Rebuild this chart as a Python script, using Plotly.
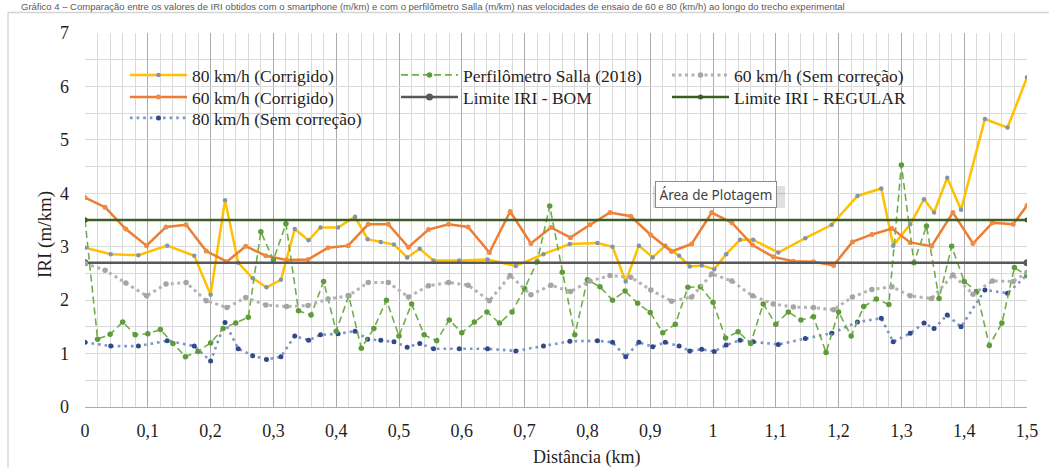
import plotly.graph_objects as go

# ---------------------------------------------------------------- data
# Passes at 80 km/h (distance in km, IRI in m/km)
dist_80 = [0, 0.041, 0.085, 0.131, 0.174, 0.2, 0.223, 0.244, 0.267, 0.289,
           0.312, 0.334, 0.356, 0.375, 0.403, 0.43, 0.45, 0.471, 0.492, 0.513,
           0.533, 0.555, 0.596, 0.641, 0.686, 0.73, 0.772, 0.816, 0.84, 0.861,
           0.882, 0.904, 0.924, 0.946, 0.963, 0.982, 1.002, 1.021, 1.043, 1.064,
           1.104, 1.147, 1.189, 1.23, 1.268, 1.287, 1.314, 1.336, 1.352, 1.373,
           1.395, 1.433, 1.469, 1.5]
iri_80_corrigido = [2.98, 2.86, 2.84, 3.02, 2.83, 2.10, 3.87, 2.70, 2.41, 2.24,
                    2.38, 3.33, 3.12, 3.36, 3.36, 3.56, 3.14, 3.09, 3.04, 2.80,
                    2.96, 2.74, 2.74, 2.76, 2.64, 2.86, 3.05, 3.07, 3.00, 2.35,
                    3.02, 2.80, 3.02, 2.83, 2.63, 2.65, 2.58, 2.86, 3.13, 3.13,
                    2.89, 3.16, 3.41, 3.95, 4.09, 3.02, 3.42, 3.89, 3.64, 4.29,
                    3.69, 5.39, 5.23, 6.17]
iri_80_sem_correcao = [1.21, 1.14, 1.14, 1.24, 1.14, 0.86, 1.58, 1.09, 0.96, 0.89,
                       0.94, 1.33, 1.25, 1.35, 1.37, 1.42, 1.27, 1.25, 1.22, 1.12,
                       1.19, 1.09, 1.09, 1.09, 1.05, 1.14, 1.23, 1.24, 1.21, 0.94,
                       1.21, 1.13, 1.21, 1.14, 1.05, 1.08, 1.04, 1.16, 1.25, 1.22,
                       1.17, 1.28, 1.38, 1.59, 1.66, 1.22, 1.38, 1.57, 1.47, 1.72,
                       1.50, 2.19, 2.13, 2.47]

# Passes at 60 km/h
dist_60 = [0, 0.032, 0.065, 0.098, 0.129, 0.161, 0.193, 0.226, 0.256, 0.288,
           0.321, 0.355, 0.387, 0.419, 0.451, 0.483, 0.515, 0.547, 0.579, 0.61,
           0.644, 0.677, 0.71, 0.742, 0.773, 0.804, 0.836, 0.869, 0.901, 0.934,
           0.966, 0.998, 1.03, 1.063, 1.096, 1.128, 1.16, 1.192, 1.222, 1.253,
           1.285, 1.314, 1.348, 1.382, 1.414, 1.445, 1.478, 1.5]
iri_60_corrigido = [3.92, 3.74, 3.33, 3.02, 3.37, 3.41, 2.92, 2.72, 3.01, 2.83,
                    2.75, 2.76, 2.98, 3.02, 3.42, 3.42, 2.99, 3.32, 3.42, 3.37,
                    2.89, 3.66, 3.06, 3.36, 3.17, 3.41, 3.64, 3.57, 3.22, 2.91,
                    3.05, 3.64, 3.45, 3.03, 2.81, 2.73, 2.72, 2.65, 3.09, 3.23,
                    3.34, 3.08, 3.01, 3.64, 3.06, 3.45, 3.42, 3.77]
iri_60_sem_correcao = [2.69, 2.56, 2.32, 2.08, 2.30, 2.33, 1.99, 1.86, 2.05, 1.91,
                       1.88, 1.90, 2.02, 2.08, 2.33, 2.33, 2.06, 2.27, 2.33, 2.28,
                       1.99, 2.46, 2.10, 2.28, 2.16, 2.36, 2.46, 2.43, 2.19, 1.98,
                       2.06, 2.49, 2.36, 2.08, 1.93, 1.87, 1.86, 1.82, 2.06, 2.20,
                       2.25, 2.08, 2.03, 2.47, 2.11, 2.36, 2.35, 2.52]

# Reference profilometer
dist_salla = [0.00, 0.02, 0.04, 0.06, 0.08, 0.10, 0.12, 0.14, 0.16, 0.18,
              0.20, 0.22, 0.24, 0.26, 0.28, 0.30, 0.32, 0.34, 0.36, 0.38,
              0.40, 0.42, 0.44, 0.46, 0.48, 0.50, 0.52, 0.54, 0.56, 0.58,
              0.60, 0.62, 0.64, 0.66, 0.68, 0.70, 0.72, 0.74, 0.76, 0.78,
              0.80, 0.82, 0.84, 0.86, 0.88, 0.90, 0.92, 0.94, 0.96, 0.98,
              1.00, 1.02, 1.04, 1.06, 1.08, 1.10, 1.12, 1.14, 1.16, 1.18,
              1.20, 1.22, 1.24, 1.26, 1.28, 1.30, 1.32, 1.34, 1.36, 1.38,
              1.40, 1.42, 1.44, 1.46, 1.48, 1.50]
iri_salla = [3.50, 1.27, 1.36, 1.59, 1.35, 1.37, 1.45, 1.19, 0.94, 1.04,
             1.20, 1.47, 1.57, 1.68, 3.28, 2.75, 3.43, 1.80, 1.72, 2.35,
             1.42, 2.08, 1.10, 1.47, 2.00, 1.33, 1.93, 1.35, 1.24, 1.63,
             1.39, 1.59, 1.78, 1.57, 1.78, 2.22, 2.72, 3.76, 2.52, 1.35,
             2.38, 2.25, 2.00, 2.17, 1.94, 1.77, 1.39, 1.55, 2.24, 2.25,
             1.96, 1.29, 1.41, 1.19, 1.93, 1.55, 1.78, 1.63, 1.69, 1.02,
             1.78, 1.33, 1.88, 2.02, 1.92, 4.53, 2.70, 3.39, 2.03, 3.01,
             2.35, 2.16, 1.15, 1.57, 2.61, 2.46]

# IRI class limits
dist_limite = [0, 1.5]
iri_limite_bom = [2.7, 2.7]
iri_limite_regular = [3.5, 3.5]

# ---------------------------------------------------------------- layout geometry
W, H = 1049, 468
ML, MR, MT, MB = 85, 22, 33, 61
PW, PH = W - ML - MR, H - MT - MB


def fx(px):
    """page x pixel -> paper coordinate"""
    return (px - ML) / PW


def fy(py):
    """page y pixel -> paper coordinate"""
    return (H - MB - py) / PH


SERIF = "Liberation Serif"
TXT = "#1f1f1f"

fig = go.Figure()

# series in drawing order; legend placement set by legend/legendrank
series = [
    dict(name="80 km/h (Corrigido)", x=dist_80, y=iri_80_corrigido,
         line=dict(color="#FFC000", width=2.5),
         marker=dict(color="#8294B4", size=4.5), legend="legend", rank=1),
    dict(name="60 km/h (Corrigido)", x=dist_60, y=iri_60_corrigido,
         line=dict(color="#ED7D31", width=2.5),
         marker=dict(color="#F08A45", size=5), legend="legend2", rank=1),
    dict(name="80 km/h (Sem correção)", x=dist_80, y=iri_80_sem_correcao,
         line=dict(color="#7C95C6", width=2.6, dash="2.6px,4px"),
         marker=dict(color="#2E4A8A", size=5), legend="legend3", rank=1),
    dict(name="Perfilômetro Salla (2018)", x=dist_salla, y=iri_salla,
         line=dict(color="#70AD47", width=1.6, dash="7px,4px"),
         marker=dict(color="#5E9C3B", size=5.5), legend="legend", rank=2),
    dict(name="Limite IRI - BOM", x=dist_limite, y=iri_limite_bom,
         line=dict(color="#595959", width=2.5),
         marker=dict(color="#595959", size=7), legend="legend2", rank=2),
    dict(name="60 km/h (Sem correção)", x=dist_60, y=iri_60_sem_correcao,
         line=dict(color="#B3B3B3", width=3, dash="3px,3.5px"),
         marker=dict(color="#A5A5A5", size=5.5), legend="legend", rank=3),
    dict(name="Limite IRI - REGULAR", x=dist_limite, y=iri_limite_regular,
         line=dict(color="#3B5E24", width=2.5),
         marker=dict(color="#3B5E24", size=5), legend="legend2", rank=3),
]

for s in series:
    fig.add_trace(go.Scatter(
        x=s["x"], y=s["y"], name=s["name"], mode="lines+markers",
        line=s["line"], marker=s["marker"],
        legend=s["legend"], legendrank=s["rank"], hoverinfo="skip",
    ))

# legend rows: natural item widths, column pitch fixed via entrywidth
legend_common = dict(
    orientation="h", xanchor="left", yanchor="top",
    bgcolor="rgba(0,0,0,0)", borderwidth=0,
    font=dict(family=SERIF, size=17.5, color=TXT),
    itemwidth=57, entrywidth=199, entrywidthmode="pixels",
    traceorder="normal", itemclick=False, itemdoubleclick=False,
)
legend_x = fx(125)

fig.update_layout(
    width=W, height=H,
    margin=dict(l=ML, r=MR, t=MT, b=MB, pad=0),
    paper_bgcolor="white", plot_bgcolor="white",
    separators=",.",
    showlegend=True,
    legend=dict(legend_common, x=legend_x, y=fy(57)),
    legend2=dict(legend_common, x=legend_x, y=fy(79)),
    legend3=dict(legend_common, x=legend_x, y=fy(100)),
    xaxis=dict(
        range=[0, 1.5], tick0=0, dtick=0.1, showgrid=True,
        gridcolor="#ABABAB", gridwidth=1,
        minor=dict(dtick=0.02, showgrid=True, gridcolor="#D9D9D9", gridwidth=1),
        zeroline=False, showline=True, linecolor="#ABABAB", linewidth=1,
        ticks="", ticklabelstandoff=7,
        tickfont=dict(family=SERIF, size=18, color=TXT),
        fixedrange=True,
    ),
    yaxis=dict(
        range=[0, 7], tick0=0, dtick=1, showgrid=True,
        gridcolor="#D9D9D9", gridwidth=1,
        minor=dict(dtick=0.5, showgrid=True, gridcolor="#D9D9D9", gridwidth=1),
        zeroline=False, showline=False,
        ticks="", ticklabelstandoff=15,
        tickfont=dict(family=SERIF, size=18, color=TXT),
        fixedrange=True,
    ),
)

annotations = [
    # axis titles
    dict(text="Distância (km)", x=fx(586), y=fy(458), xref="paper", yref="paper",
         xanchor="center", yanchor="middle", showarrow=False,
         font=dict(family=SERIF, size=18, color=TXT)),
    dict(text="IRI (m/km)", x=fx(45), y=fy(235), xref="paper", yref="paper",
         xanchor="center", yanchor="middle", showarrow=False, textangle=-90,
         font=dict(family=SERIF, size=19, color=TXT)),
    # figure caption above the chart frame
    dict(text="Gráfico 4 – Comparação entre os valores de IRI obtidos com o smartphone (m/km) e com o "
              "perfilômetro Salla (m/km) nas velocidades de ensaio de 60 e 80 (km/h) ao longo do trecho experimental",
         x=fx(20), y=fy(0), xref="paper", yref="paper",
         xanchor="left", yanchor="top", showarrow=False, borderpad=0,
         font=dict(family="Liberation Sans", size=9.5, color="#595959")),
    # hover label of the plot area
    dict(text="Área de Plotagem", x=fx(716), y=fy(195), xref="paper", yref="paper",
         xanchor="center", yanchor="middle", showarrow=False,
         bgcolor="white", bordercolor="#8C8C8C", borderwidth=1, borderpad=3.5,
         font=dict(family="Noto Sans", size=13.5, color="#404040")),
]
fig.update_layout(annotations=annotations)

frame = dict(color="#D4D4D4", width=1.3)
shapes = [
    # chart frame: top and left edges (the rest runs past the page)
    dict(type="line", xref="paper", yref="paper",
         x0=fx(8), x1=fx(W), y0=fy(12.5), y1=fy(12.5), line=frame, layer="below"),
    dict(type="line", xref="paper", yref="paper",
         x0=fx(8), x1=fx(8), y0=fy(12.5), y1=fy(H), line=frame, layer="below"),
    # soft shadow of the plot-area label
    dict(type="rect", xref="paper", yref="paper",
         x0=fx(653), x1=fx(785), y0=fy(208), y1=fy(186),
         line=dict(width=0), fillcolor="rgba(0,0,0,0.12)", layer="above"),
]
fig.update_layout(shapes=shapes)

fig.write_html("out.html", config=dict(displayModeBar=False, staticPlot=True))
